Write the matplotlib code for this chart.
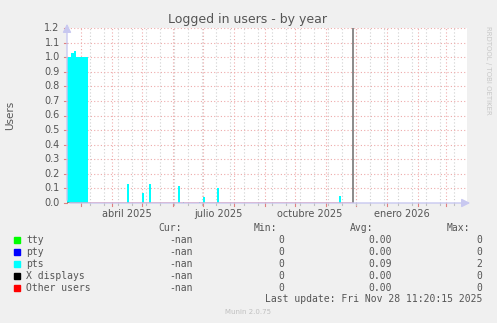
import matplotlib
matplotlib.use("Agg")
import matplotlib.pyplot as plt
import pandas as pd

# pts series (step data, value holds until next date)
pts_dates = ["2025-02-15", "2025-02-19", "2025-02-22", "2025-02-24", "2025-03-08",
             "2025-04-16", "2025-04-18", "2025-05-01", "2025-05-03", "2025-05-08", "2025-05-10",
             "2025-06-06", "2025-06-08", "2025-06-11", "2025-06-12", "2025-06-27", "2025-06-28",
             "2025-07-01", "2025-07-03", "2025-07-15", "2025-07-17", "2025-11-14", "2025-11-16",
             "2025-11-28"]
pts_values = [1.0, 1.03, 1.04, 1.0, 0.0,
              0.13, 0.0, 0.07, 0.0, 0.13, 0.0,
              0.12, 0.0, 0.01, 0.0, 0.01, 0.0,
              0.04, 0.0, 0.10, 0.0, 0.05, 0.0,
              0.0]

x_start = "2025-02-15"
x_end = "2026-03-22"
now = "2025-11-28 11:20"

month_ticks = pd.date_range("2025-03-01", "2026-03-01", freq="MS")
label_dates = ["2025-04-16", "2025-07-16", "2025-10-16", "2026-01-16"]
label_texts = ["abril 2025", "julio 2025", "octubre 2025", "enero 2026"]
minor_ticks = pd.date_range("2025-03-10", "2026-03-20", freq="14D")
y_ticks = [i / 10 for i in range(13)]

legend_names = ["tty", "pty", "pts", "X displays", "Other users"]
legend_colors = ["#00ff00", "#0000ff", "#00ffff", "#000000", "#ff0000"]
cur_vals = ["-nan"] * 5
min_vals = ["0", "0", "0", "0", "0"]
avg_vals = ["0.00", "0.00", "0.09", "0.00", "0.00"]
max_vals = ["0", "0", "2", "0", "0"]

W, H = 497, 323
fig = plt.figure(figsize=(W / 100, H / 100), dpi=100, facecolor="#f0f0f0")
ax = fig.add_axes([67 / W, 1 - 203 / H, 400 / W, 175 / H])
ax.set_facecolor("white")

x0, x1 = pd.Timestamp(x_start), pd.Timestamp(x_end)
ax.set_xlim(x0, x1)
ax.set_ylim(0, 1.2)

# grid
for d in minor_ticks:
    ax.axvline(d, color="#d0d0d0", lw=0.8, ls=(0, (1, 2)), zorder=1)
for d in month_ticks:
    ax.axvline(d, color="#eeaaaa", lw=0.8, ls=(0, (1, 2)), zorder=1)
for v in y_ticks[1:]:
    ax.axhline(v, color="#eeaaaa", lw=0.8, ls=(0, (1, 2)), zorder=1)

# data
ax.fill_between(pd.to_datetime(pts_dates), pts_values, step="post", color="#00ffff", lw=0, zorder=2)
ax.plot([x0, pd.Timestamp(now)], [0, 0], color="#ff0000", lw=1.2, alpha=0.45, zorder=3)
ax.axvline(pd.Timestamp(now), color="#777777", lw=1.2, zorder=4)

for s in ax.spines.values():
    s.set_visible(False)
ax.tick_params(length=0)
ax.set_xticks([])
ax.set_yticks([])

# axes with arrows
ax.annotate("", xy=(1.015, 0), xytext=(0, 0), xycoords="axes fraction",
            arrowprops=dict(arrowstyle="-|>,head_length=0.5,head_width=0.25", color="#c8c8f0", lw=1), zorder=5)
ax.annotate("", xy=(0, 1.04), xytext=(0, 0), xycoords="axes fraction",
            arrowprops=dict(arrowstyle="-|>,head_length=0.5,head_width=0.25", color="#c8c8f0", lw=1), zorder=5,
            annotation_clip=False)

trans_x = ax.get_xaxis_transform()
for d in month_ticks:
    ax.plot([d, d], [0, -0.015], transform=trans_x, color="#e08080", lw=0.8, clip_on=False)
for d in minor_ticks:
    ax.plot([d, d], [0, -0.012], transform=trans_x, color="#c0c0c0", lw=0.8, clip_on=False)
for d, t in zip(label_dates, label_texts):
    ax.text(pd.Timestamp(d), -0.035, t, transform=trans_x, ha="center", va="top", fontsize=7, color="#555555")

trans_y = ax.get_yaxis_transform()
for v in y_ticks:
    ax.plot([-0.008, 0], [v, v], transform=trans_y, color="#e08080", lw=0.8, clip_on=False)
    ax.text(-0.018, v, f"{v:.1f}", transform=trans_y, ha="right", va="center", fontsize=7, color="#555555")

fig.text(248 / W, 1 - 19 / H, "Logged in users - by year", ha="center", va="center", fontsize=9, color="#555555")
fig.text(10 / W, 1 - 115 / H, "Users", rotation=90, ha="center", va="center", fontsize=7.5, color="#555555")
fig.text(488 / W, 1 - 26 / H, "RRDTOOL / TOBI OETIKER", rotation=270, ha="center", va="top", fontsize=5,
         color="#c8c8c8")

# legend table
mono = dict(family="DejaVu Sans Mono", fontsize=7, color="#555555")
fig.text(182 / W, 1 - 228 / H, "Cur:", ha="right", va="center", **mono)
fig.text(277 / W, 1 - 228 / H, "Min:", ha="right", va="center", **mono)
fig.text(373 / W, 1 - 228 / H, "Avg:", ha="right", va="center", **mono)
fig.text(470 / W, 1 - 228 / H, "Max:", ha="right", va="center", **mono)
for i, name in enumerate(legend_names):
    y = 1 - (240 + 12 * i) / H
    fig.patches.append(plt.Rectangle((14 / W, y - 3 / H), 6 / W, 6 / H, transform=fig.transFigure,
                                     color=legend_colors[i]))
    fig.text(26 / W, y, name, ha="left", va="center", **mono)
    fig.text(193 / W, y, cur_vals[i], ha="right", va="center", **mono)
    fig.text(284 / W, y, min_vals[i], ha="right", va="center", **mono)
    fig.text(392 / W, y, avg_vals[i], ha="right", va="center", **mono)
    fig.text(482 / W, y, max_vals[i], ha="right", va="center", **mono)
fig.text(482 / W, 1 - 299 / H, "Last update: Fri Nov 28 11:20:15 2025", ha="right", va="center", **mono)
fig.text(248 / W, 1 - 312 / H, "Munin 2.0.75", ha="center", va="center", fontsize=5, color="#c0c0c0")

fig.savefig("out.png", dpi=100, facecolor=fig.get_facecolor())
